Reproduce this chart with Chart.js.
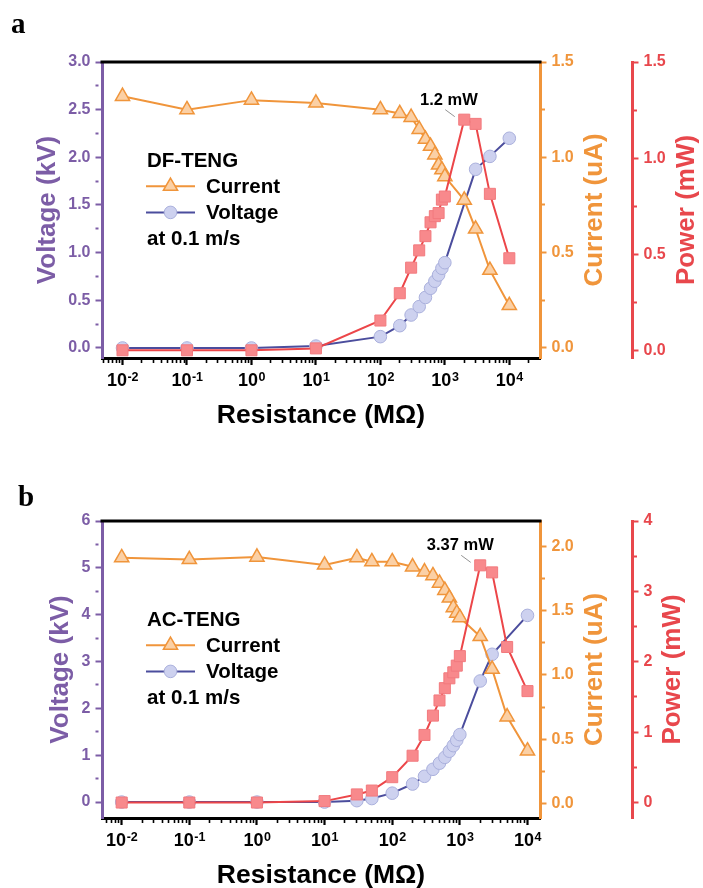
<!DOCTYPE html>
<html>
<head>
<meta charset="utf-8">
<script src="https://cdn.jsdelivr.net/npm/chart.js@4.4.1/dist/chart.umd.min.js"></script>
<style>
  html, body { margin: 0; padding: 0; background: #fff; }
  canvas { display: block; }
</style>
</head>
<body>
<canvas id="chartA" width="703" height="444"></canvas>
<canvas id="chartB" width="703" height="444"></canvas>
<script>
// ---- panel a : DF-TENG
const resA = [0.01, 0.1, 1, 10, 100, 200, 300, 400, 500, 600, 700, 800, 900, 1000, 2000, 3000, 5000, 10000];
const currentA = [1.32, 1.25, 1.30, 1.285, 1.25, 1.23, 1.21, 1.147, 1.095, 1.058, 1.013, 0.96, 0.935, 0.899, 0.776, 0.624, 0.408, 0.223];
const powerA = [0, 0, 0, 0.01, 0.155, 0.297, 0.43, 0.52, 0.594, 0.666, 0.698, 0.714, 0.784, 0.8, 1.2, 1.178, 0.814, 0.479];
const resVoltA = [0.01, 0.1, 1, 10, 100, 200, 300, 400, 500, 600, 700, 800, 900, 1000, 3000, 5000, 10000];
const voltageA = [0.0, 0.0, 0.0, 0.02, 0.119, 0.234, 0.346, 0.434, 0.53, 0.626, 0.70, 0.766, 0.836, 0.895, 1.874, 2.01, 2.2];

// ---- panel b : AC-TENG
const resB = [0.01, 0.1, 1, 10, 30, 50, 100, 200, 300, 400, 500, 600, 700, 800, 900, 1000, 2000, 3000, 5000, 10000];
const currentB = [1.914, 1.90, 1.919, 1.857, 1.914, 1.883, 1.883, 1.843, 1.804, 1.774, 1.716, 1.66, 1.60, 1.525, 1.482, 1.447, 1.30, 1.045, 0.674, 0.408];
const powerB = [0, 0, 0, 0.02, 0.115, 0.17, 0.36, 0.665, 0.96, 1.235, 1.45, 1.625, 1.765, 1.85, 1.945, 2.08, 3.37, 3.27, 2.21, 1.583];
const resVoltB = [0.01, 0.1, 1, 10, 30, 50, 100, 200, 300, 400, 500, 600, 700, 800, 900, 1000, 2000, 3000, 10000];
const voltageB = [0, 0, 0, 0, 0.03, 0.075, 0.19, 0.385, 0.55, 0.70, 0.83, 0.955, 1.085, 1.205, 1.32, 1.44, 2.585, 3.155, 3.985];

// ---- axis ticks
const xDecades = [-2, -1, 0, 1, 2, 3, 4];
const voltTicksA = [0, 0.5, 1, 1.5, 2, 2.5, 3];
const currTicksA = [0, 0.5, 1, 1.5];
const powTicksA = [0, 0.5, 1, 1.5];
const voltTicksB = [0, 1, 2, 3, 4, 5, 6];
const currTicksB = [0, 0.5, 1, 1.5, 2];
const powTicksB = [0, 1, 2, 3, 4];

const peakLabelA = '1.2 mW';
const peakLabelB = '3.37 mW';

const SANS = '"Liberation Sans", Arial, Helvetica, sans-serif';
const PURPLE = '#7c5da6';
const ORANGE = '#f0953b';
const RED = '#e8474c';
const VOLT_LINE = '#4b4d9d', VOLT_FILL = '#cdd1ef', VOLT_EDGE = '#aab0dc';
const CUR_FILL = '#fbd0a5';
const POW_LINE = '#ec4649', POW_FILL = '#f8898c', POW_EDGE = '#f27a7e';

const TL = 6.5, TPAD = 5;
const LEG_FONT = 'bold 20.5px ' + SANS;

function pts(xs, ys) {
  return xs.map((x, i) => ({ x: x, y: ys[i] }));
}

// majors plus midpoints (minor ticks)
function withMinors(majors) {
  const out = [];
  majors.forEach((v, i) => {
    out.push(v);
    if (i < majors.length - 1) out.push((v + majors[i + 1]) / 2);
  });
  return out;
}

function logTicks(min, max) {
  const out = [];
  for (let e = -3; e <= 5; e++) {
    for (let k = 1; k <= 9; k++) {
      const v = k * Math.pow(10, e);
      if (v >= min && v <= max) out.push(v);
    }
  }
  return out;
}

function isDecade(v) {
  const l = Math.log10(v);
  return Math.abs(l - Math.round(l)) < 1e-9;
}

function drawMarker(ctx, ds, x, y) {
  const r = ds.pointRadius;
  ctx.beginPath();
  if (ds.pointStyle === 'circle') {
    ctx.arc(x, y, r, 0, Math.PI * 2);
  } else if (ds.pointStyle === 'triangle') {
    ctx.moveTo(x, y - r);
    ctx.lineTo(x + r * Math.sin(2 * Math.PI / 3), y - r * Math.cos(2 * Math.PI / 3));
    ctx.lineTo(x + r * Math.sin(4 * Math.PI / 3), y - r * Math.cos(4 * Math.PI / 3));
    ctx.closePath();
  } else {
    const s = Math.SQRT1_2 * r;
    ctx.rect(x - s, y - s, 2 * s, 2 * s);
  }
  ctx.fillStyle = ds.pointBackgroundColor;
  ctx.fill();
  ctx.lineWidth = ds.pointBorderWidth;
  ctx.strokeStyle = ds.pointBorderColor;
  ctx.stroke();
}

const decor = {
  id: 'decor',
  afterDraw(chart, args, o) {
    const { ctx, chartArea: a, scales } = chart;
    ctx.save();

    // top frame
    ctx.strokeStyle = '#000';
    ctx.lineWidth = 3;
    ctx.beginPath();
    ctx.moveTo(a.left - 1.5, a.top);
    ctx.lineTo(a.right + 1.5, a.top);
    ctx.stroke();

    // x tick labels 10^n
    ctx.fillStyle = '#000';
    ctx.textBaseline = 'alphabetic';
    ctx.textAlign = 'left';
    const base = a.bottom + 28.3;
    xDecades.forEach(e => {
      const px = scales.x.getPixelForValue(Math.pow(10, e));
      const sup = String(e);
      ctx.font = 'bold 18px ' + SANS;
      const w1 = ctx.measureText('10').width;
      ctx.font = 'bold 12.5px ' + SANS;
      const w2 = ctx.measureText(sup).width;
      const x0 = px - (w1 + w2) / 2;
      ctx.font = 'bold 18px ' + SANS;
      ctx.fillText('10', x0, base);
      ctx.font = 'bold 12.5px ' + SANS;
      ctx.fillText(sup, x0 + w1 + 0.5, base - 5.5);
    });

    // x title
    ctx.textAlign = 'center';
    ctx.textBaseline = 'middle';
    ctx.font = 'bold 26.5px ' + SANS;
    ctx.fillText('Resistance (M\u03A9)', (a.left + a.right) / 2, a.bottom + 57.5);

    // y titles, read bottom to top
    const yTitle = (scale, text, color, side) => {
      ctx.font = 'bold 16px ' + SANS;
      const w = Math.max(...scale.ticks.filter(t => t.label).map(t => ctx.measureText(t.label).width));
      const off = TL + TPAD + w + 20.8;
      const x = side === 'left' ? scale.right - off : scale.left + off;
      ctx.save();
      ctx.translate(x, (a.top + a.bottom) / 2);
      ctx.rotate(-Math.PI / 2);
      ctx.textAlign = 'center';
      ctx.textBaseline = 'middle';
      ctx.fillStyle = color;
      ctx.font = 'bold 26px ' + SANS;
      ctx.fillText(text, 0, 0);
      ctx.restore();
    };
    yTitle(scales.yV, 'Voltage (kV)', PURPLE, 'left');
    yTitle(scales.yC, 'Current (uA)', ORANGE, 'right');
    yTitle(scales.yP, 'Power (mW)', RED, 'right');

    // legend inside the plot
    const dsP = chart.data.datasets[0], dsC = chart.data.datasets[1], dsV = chart.data.datasets[2];
    const lx = a.left + 44, ly = a.top + 98, dy = 26.2;
    ctx.textAlign = 'left';
    ctx.textBaseline = 'middle';
    ctx.fillStyle = '#000';
    ctx.font = LEG_FONT;
    ctx.fillText(o.name, lx + 1, ly + 1);
    [dsC, dsV].forEach((ds, i) => {
      const y = ly + dy * (i + 1);
      ctx.strokeStyle = ds.borderColor;
      ctx.lineWidth = 2;
      ctx.beginPath();
      ctx.moveTo(lx, y);
      ctx.lineTo(lx + 49, y);
      ctx.stroke();
      drawMarker(ctx, ds, lx + 24.5, y);
      ctx.fillStyle = '#000';
      ctx.font = LEG_FONT;
      ctx.fillText(ds.label, lx + 60, y + 1);
    });
    ctx.fillText('at 0.1 m/s', lx + 1, ly + dy * 3 + 1);

    // peak power note
    let ip = 0;
    dsP.data.forEach((p, i) => { if (p.y > dsP.data[ip].y) ip = i; });
    const px = scales.x.getPixelForValue(dsP.data[ip].x);
    const py = scales.yP.getPixelForValue(dsP.data[ip].y);
    ctx.strokeStyle = '#777';
    ctx.lineWidth = 0.8;
    ctx.beginPath();
    ctx.moveTo(px - 19, py - 10);
    ctx.lineTo(px - 9.5, py - 3);
    ctx.stroke();
    ctx.fillStyle = '#000';
    ctx.textAlign = 'right';
    ctx.textBaseline = 'alphabetic';
    ctx.font = 'bold 16.5px ' + SANS;
    ctx.fillText(o.peak, px + 13.5, py - 15);

    // panel letter
    ctx.textAlign = 'left';
    ctx.font = 'bold 29px "Liberation Serif", "Times New Roman", serif';
    ctx.fillText(o.letter, o.letterX, o.letterY);

    ctx.restore();
  }
};

function yAxis(pos, min, max, majors, color, width, digits, weight) {
  return {
    type: 'linear',
    position: pos,
    weight: weight,
    min: min,
    max: max,
    afterBuildTicks: s => { s.ticks = withMinors(majors).map(v => ({ value: v })); },
    afterFit: s => { s.width = width; },
    ticks: {
      autoSkip: false,
      padding: TPAD,
      color: color,
      font: { family: SANS, size: 16, weight: 'bold' },
      callback: v => majors.some(m => Math.abs(m - v) < 1e-9) ? v.toFixed(digits) : ''
    },
    grid: {
      drawOnChartArea: false,
      tickLength: TL,
      tickColor: color,
      tickWidth: 2,
      tickBorderDash: c => majors.some(m => Math.abs(m - c.tick.value) < 1e-9) ? [] : [3, 20]
    },
    border: { color: color, width: 3 }
  };
}

function makePanel(id, p) {
  const ctx = document.getElementById(id).getContext('2d');
  return new Chart(ctx, {
    type: 'line',
    data: {
      datasets: [
        {
          label: 'Power', data: pts(p.res, p.power), yAxisID: 'yP',
          borderColor: POW_LINE, borderWidth: 2, pointStyle: 'rect', pointRadius: 7.8,
          pointBackgroundColor: POW_FILL, pointBorderColor: POW_EDGE, pointBorderWidth: 1
        },
        {
          label: 'Current', data: pts(p.res, p.current), yAxisID: 'yC',
          borderColor: ORANGE, borderWidth: 2, pointStyle: 'triangle', pointRadius: 8.2,
          pointBackgroundColor: CUR_FILL, pointBorderColor: ORANGE, pointBorderWidth: 1.5
        },
        {
          label: 'Voltage', data: pts(p.resVolt, p.voltage), yAxisID: 'yV',
          borderColor: VOLT_LINE, borderWidth: 2, pointStyle: 'circle', pointRadius: 6.3,
          pointBackgroundColor: VOLT_FILL, pointBorderColor: VOLT_EDGE, pointBorderWidth: 1
        }
      ]
    },
    options: {
      responsive: false,
      animation: false,
      events: [],
      layout: { padding: { top: p.padTop, left: 0, right: 0, bottom: 0 } },
      scales: {
        x: {
          type: 'logarithmic',
          min: p.xMin,
          max: p.xMax,
          afterBuildTicks: s => { s.ticks = logTicks(p.xMin, p.xMax).map(v => ({ value: v, major: isDecade(v) })); },
          afterFit: s => { s.height = p.xAxisH; },
          ticks: { display: false, autoSkip: false },
          grid: {
            drawOnChartArea: false,
            tickLength: 7,
            tickColor: '#000',
            tickWidth: c => isDecade(c.tick.value) ? 2.2 : 1.6,
            tickBorderDash: c => isDecade(c.tick.value) ? [] : [3, 20]
          },
          border: { color: '#000', width: 3 }
        },
        yV: yAxis('left', p.vMin, p.vMax, p.vTicks, PURPLE, 102, p.vDigits, 0),
        yC: yAxis('right', p.cMin, p.cMax, p.cTicks, ORANGE, 92, 1, 0),
        yP: yAxis('right', p.pMin, p.pMax, p.pTicks, RED, 71, p.pDigits, 1)
      },
      plugins: {
        legend: { display: false },
        tooltip: { enabled: false },
        decor: { name: p.name, peak: p.peak, letter: p.letter, letterX: p.letterX, letterY: p.letterY }
      }
    },
    plugins: [decor]
  });
}

makePanel('chartA', {
  name: 'DF-TENG', peak: peakLabelA, letter: 'a', letterX: 11, letterY: 33,
  res: resA, current: currentA, power: powerA, resVolt: resVoltA, voltage: voltageA,
  xMin: Math.pow(10, -2.318), xMax: Math.pow(10, 4.476),
  vMin: -0.105, vMax: 3, vTicks: voltTicksA, vDigits: 1,
  cMin: -0.0525, cMax: 1.5, cTicks: currTicksA,
  pMin: -0.04, pMax: 1.5, pTicks: powTicksA, pDigits: 1,
  padTop: 62, xAxisH: 86
});

makePanel('chartB', {
  name: 'AC-TENG', peak: peakLabelB, letter: 'b', letterX: 18, letterY: 62,
  res: resB, current: currentB, power: powerB, resVolt: resVoltB, voltage: voltageB,
  xMin: Math.pow(10, -2.291), xMax: Math.pow(10, 4.185),
  vMin: -0.34, vMax: 6, vTicks: voltTicksB, vDigits: 0,
  cMin: -0.115, cMax: 2.2, cTicks: currTicksB,
  pMin: -0.22, pMax: 4, pTicks: powTicksB, pDigits: 0,
  padTop: 77, xAxisH: 70
});
</script>
</body>
</html>
